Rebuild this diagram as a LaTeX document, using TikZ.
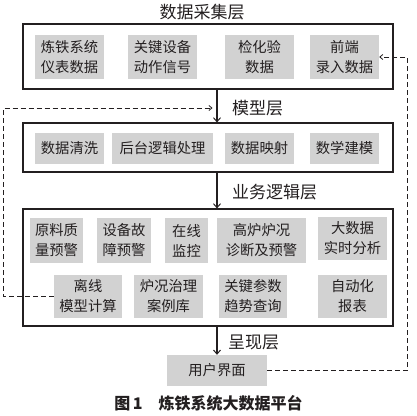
\documentclass[tikz,border=0pt]{standalone}
\usepackage{fontspec}
\setmainfont{Noto Sans CJK SC}
\newfontfamily\cjk{Noto Sans CJK SC}
\usetikzlibrary{arrows.meta}
\definecolor{boxgray}{RGB}{210,210,210}
\definecolor{ink}{RGB}{35,31,32}
\tikzset{
  gbox/.style={fill=boxgray, draw=none, inner sep=0pt, align=center, text=ink,
    font=\cjk\fontsize{14.3}{20}\selectfont, anchor=center},
  layer/.style={draw=ink, line width=1.1pt, fill=none},
  layerlabel/.style={text=ink, font=\cjk\fontsize{17}{20}\selectfont, inner sep=0pt},
  mainarrow/.style={draw=ink, line width=1.8pt, -{Straight Barb[length=4pt,width=7pt,line width=1pt]}},
  feedback/.style={draw=ink, line width=0.8pt, dash pattern=on 5pt off 3pt, -{Straight Barb[length=3pt,width=5pt]}}
}
\begin{document}
\begin{tikzpicture}[x=1pt,y=-1pt]
\useasboundingbox (0,0) rectangle (417,415);
% outer layer boxes
\node[layer, minimum width=370pt, minimum height=65pt, inner sep=0pt] (L1) at (208,56.5) {};
\node[layer, minimum width=370pt, minimum height=49pt, inner sep=0pt] (L2) at (208,147.5) {};
\node[layer, minimum width=370pt, minimum height=117pt, inner sep=0pt] (L3) at (208,267.5) {};
% layer titles
\node[layerlabel] (t1) at (202,12) {数据采集层};
\node[layerlabel, anchor=west] (t2) at (232,108) {模型层};
\node[layerlabel, anchor=west] (t3) at (232,192) {业务逻辑层};
\node[layerlabel, anchor=west] (t4) at (228,342) {呈现层};
% data acquisition layer
\node[gbox, minimum width=69pt, minimum height=44pt] (a1) at (69.5,57) {炼铁系统\\仪表数据};
\node[gbox, minimum width=69pt, minimum height=44pt] (a2) at (162.5,57) {关键设备\\动作信号};
\node[gbox, minimum width=69pt, minimum height=44pt] (a3) at (259.5,57) {检化验\\数据};
\node[gbox, minimum width=69pt, minimum height=44pt] (a4) at (344.5,57) {前端\\录入数据};
% model layer
\node[gbox, minimum width=69pt, minimum height=31pt] (m1) at (69.5,148.5) {数据清洗};
\node[gbox, minimum width=101pt, minimum height=31pt] (m2) at (162.5,148.5) {后台逻辑处理};
\node[gbox, minimum width=69pt, minimum height=31pt] (m3) at (259.5,148.5) {数据映射};
\node[gbox, minimum width=69pt, minimum height=31pt] (m4) at (344.5,148.5) {数学建模};
% business logic layer row 1
\node[gbox, minimum width=53pt, minimum height=45pt] (b1) at (56.5,240.5) {原料质\\量预警};
\node[gbox, minimum width=54pt, minimum height=45pt] (b2) at (124,240.5) {设备故\\障预警};
\node[gbox, minimum width=43pt, minimum height=45pt] (b3) at (186.5,240.5) {在线\\监控};
\node[gbox, minimum width=89pt, minimum height=45pt] (b4) at (261.5,240.5) {高炉炉况\\诊断及预警};
\node[gbox, minimum width=69pt, minimum height=43pt] (b5) at (352.5,238.5) {大数据\\实时分析};
% row 2
\node[gbox, minimum width=68pt, minimum height=43pt] (c1) at (88,296.5) {离线\\模型计算};
\node[gbox, minimum width=69pt, minimum height=43pt] (c2) at (168.5,296.5) {炉况治理\\案例库};
\node[gbox, minimum width=68pt, minimum height=43pt] (c3) at (253,296.5) {关键参数\\趋势查询};
\node[gbox, minimum width=69pt, minimum height=43pt] (c4) at (352.5,296.5) {自动化\\报表};
% presentation layer
\node[gbox, minimum width=100pt, minimum height=31pt] (ui) at (217,370.5) {用户界面};
% main arrows
\draw[mainarrow] (L1.south -| ui) -- (L2.north -| ui);
\draw[mainarrow] (L2.south -| ui) -- (L3.north -| ui);
\draw[mainarrow] (L3.south -| ui) -- (ui.north);
% feedback dashed connectors
\coordinate (j1) at (212.5,108);
\coordinate (k1) at (3.5,296.5);
\coordinate (k2) at (407.5,370.5);
\draw[feedback] (c1.west) -- (k1) -- (k1 |- j1) -- (j1);
\draw[feedback] (ui.east) -- (k2) -- (k2 |- a4.east) -- (a4.east);
% caption
\node[text=ink, font=\cjk\bfseries\fontsize{16}{20}\selectfont, inner sep=0pt] (cap) at (208.5,403) {图\,1\quad 炼铁系统大数据平台};
\end{tikzpicture}
\end{document}
